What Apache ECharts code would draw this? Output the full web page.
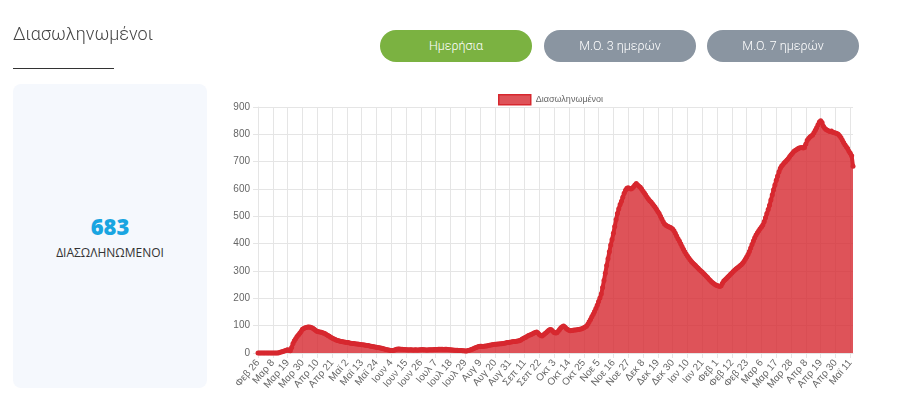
<!DOCTYPE html>
<html>
<head>
<meta charset="utf-8">
<script src="https://cdn.jsdelivr.net/npm/echarts@6/dist/echarts.min.js"></script>
<style>
  html, body { margin: 0; padding: 0; background: #fff; }
  #wrap { position: relative; width: 900px; height: 417px; overflow: hidden; }
  #chart { position: absolute; left: 0; top: 0; width: 900px; height: 417px; }
  .title { position: absolute; left: 13px; top: 23px; font-family: Roboto, sans-serif; font-weight: 300; font-size: 18px; color: #444; }
  .rule { position: absolute; left: 13px; top: 68px; width: 101px; height: 1px; background: #333; }
  .btn { position: absolute; top: 30px; width: 152px; height: 32px; border-radius: 16px; color: #fff;
         font-family: Roboto, sans-serif; font-weight: 300; font-size: 12.5px; line-height: 32px; text-align: center; }
  .card { position: absolute; left: 13px; top: 84px; width: 194px; height: 304px; border-radius: 8px; background: #f5f8fd; }
  .num { position: absolute; left: 0; width: 194px; top: 127px; text-align: center; font-family: "Open Sans", sans-serif;
         font-weight: 800; font-size: 22px; color: #19a5e1; }
  .lbl { position: absolute; left: 0; width: 194px; top: 160px; text-align: center; font-family: "Open Sans", sans-serif;
         font-size: 12px; color: #333; }
</style>
</head>
<body>
<div id="wrap">
  <div class="card"><div class="num">683</div><div class="lbl">ΔΙΑΣΩΛΗΝΩΜΕΝΟΙ</div></div>
  <div id="chart"></div>
  <div class="title">Διασωληνωμένοι</div>
  <div class="rule"></div>
  <div class="btn" style="left:380px;background:#7bb241;">Ημερήσια</div>
  <div class="btn" style="left:544px;background:#8a95a1;">Μ.Ο. 3 ημερών</div>
  <div class="btn" style="left:707px;background:#8a95a1;">Μ.Ο. 7 ημερών</div>
</div>
<script>
// ημερήσιες τιμές διασωληνωμένων, από 26 Φεβ 2020
var monthsGr = ['Ιαν', 'Φεβ', 'Μαρ', 'Απρ', 'Μαϊ', 'Ιουν', 'Ιουλ', 'Αυγ', 'Σεπ', 'Οκτ', 'Νοε', 'Δεκ'];
var startDate = Date.UTC(2020, 1, 26);

var feb2020 = [0, 0, 0, 0];
var mar2020 = [0, 0, 0, 0, 0, 0, 0, 0, 0, 0, 0, 0, 2, 4, 5, 6, 8, 10, 12, 10, 8, 20, 35, 45, 52, 60, 66, 72, 79, 87, 90];
var apr2020 = [92, 93, 95, 95, 94, 92, 90, 86, 82, 79, 78, 77, 76, 74, 72, 70, 67, 64, 61, 58, 55, 52, 50, 48, 46, 45, 43, 42, 41, 40];
var may2020 = [39, 38, 38, 37, 36, 35, 35, 34, 33, 33, 32, 31, 30, 30, 29, 28, 27, 27, 26, 25, 24, 23, 22, 21, 20, 19, 18, 17, 16, 15, 13];
var jun2020 = [12, 11, 10, 9, 9, 10, 12, 14, 15, 15, 14, 14, 13, 13, 12, 12, 11, 12, 12, 11, 11, 12, 11, 11, 12, 12, 13, 12, 12, 11];
var jul2020 = [11, 12, 12, 12, 12, 13, 13, 13, 14, 14, 14, 14, 13, 14, 14, 13, 12, 12, 11, 11, 10, 10, 10, 9, 9, 9, 8, 8, 7, 7, 9];
var aug2020 = [10, 12, 14, 16, 18, 20, 22, 24, 25, 25, 24, 25, 26, 26, 27, 28, 29, 30, 31, 32, 32, 33, 33, 34, 34, 35, 36, 37, 38, 38, 39];
var sep2020 = [40, 41, 42, 42, 43, 44, 45, 47, 50, 53, 56, 58, 61, 64, 66, 68, 70, 73, 75, 77, 73, 68, 64, 62, 66, 70, 74, 79, 83, 86];
var oct2020 = [85, 80, 75, 73, 74, 80, 86, 92, 96, 99, 95, 90, 86, 83, 81, 82, 83, 84, 84, 85, 86, 87, 88, 90, 92, 95, 98, 105, 114, 123, 133];
var nov2020 = [142, 152, 163, 175, 188, 201, 216, 240, 265, 292, 320, 345, 370, 395, 415, 438, 463, 488, 510, 528, 543, 555, 570, 584, 595, 603, 605, 602, 600, 603];
var dec2020 = [608, 615, 620, 615, 610, 606, 600, 592, 585, 578, 570, 563, 557, 552, 546, 540, 533, 526, 518, 510, 500, 490, 480, 472, 467, 465, 462, 460, 457, 454, 447];
var jan2021 = [438, 428, 418, 410, 400, 390, 380, 370, 362, 355, 348, 341, 335, 329, 325, 320, 315, 310, 305, 300, 296, 291, 286, 281, 276, 270, 265, 260, 256, 252, 249];
var feb2021 = [247, 245, 243, 246, 255, 263, 268, 273, 278, 283, 288, 293, 298, 303, 307, 311, 315, 319, 323, 328, 335, 343, 351, 360, 371, 384, 397, 410];
var mar2021 = [422, 432, 440, 447, 455, 461, 468, 480, 495, 510, 525, 541, 560, 578, 597, 615, 632, 648, 663, 676, 684, 690, 696, 701, 706, 712, 719, 725, 731, 737, 741];
var apr2021 = [744, 747, 750, 751, 752, 750, 752, 765, 778, 785, 790, 794, 798, 806, 815, 824, 835, 845, 850, 843, 830, 822, 818, 815, 812, 810, 812, 808, 806, 805];
var may2021 = [803, 800, 795, 788, 779, 770, 762, 755, 748, 738, 731, 722, 683];

var values = [].concat(feb2020, mar2020, apr2020, may2020, jun2020, jul2020, aug2020,
    sep2020, oct2020, nov2020, dec2020, jan2021, feb2021, mar2021, apr2021, may2021);

var categories = values.map(function (v, i) {
    var d = new Date(startDate + i * 86400000);
    return monthsGr[d.getUTCMonth()] + ' ' + d.getUTCDate();
});

var chart = echarts.init(document.getElementById('chart'), null, { renderer: 'canvas' });
var gridColor = '#e5e5e5';

chart.setOption({
    animation: false,
    textStyle: { fontFamily: 'Liberation Sans, Arial, sans-serif' },
    legend: {
        left: 493,
        top: 89,
        icon: 'rect',
        itemWidth: 32,
        itemHeight: 10,
        itemGap: 10,
        itemStyle: { color: 'rgba(214,40,47,0.8)', borderColor: '#d7282f', borderWidth: 1.5 },
        textStyle: { fontSize: 9, color: '#666', padding: [0, 0, 0, 0] },
        data: ['Διασωληνωμένοι']
    },
    grid: { left: 258, right: 47, top: 107, bottom: 64, containLabel: false },
    xAxis: {
        type: 'category',
        boundaryGap: false,
        data: categories,
        axisLine: { show: true, lineStyle: { color: gridColor, width: 1 } },
        axisTick: { show: true, interval: 10, length: 5, lineStyle: { color: gridColor } },
        axisLabel: { interval: 10, rotate: 50, fontSize: 10, color: '#666', margin: 8 },
        splitLine: { show: true, interval: 10, lineStyle: { color: gridColor, width: 1 } }
    },
    yAxis: {
        type: 'value',
        min: 0,
        max: 900,
        interval: 100,
        axisLine: { show: true, lineStyle: { color: gridColor, width: 1 } },
        axisTick: { show: true, length: 5, lineStyle: { color: gridColor } },
        axisLabel: { fontSize: 10, color: '#666', margin: 8 },
        splitLine: { show: true, lineStyle: { color: gridColor, width: 1 } }
    },
    series: [{
        name: 'Διασωληνωμένοι',
        type: 'line',
        data: values,
        symbol: 'circle',
        symbolSize: 5,
        showAllSymbol: true,
        itemStyle: { color: '#d7282f' },
        lineStyle: { color: '#d7282f', width: 4 },
        areaStyle: { color: 'rgba(214,40,47,0.8)', opacity: 1 }
    }]
});
</script>
</body>
</html>
